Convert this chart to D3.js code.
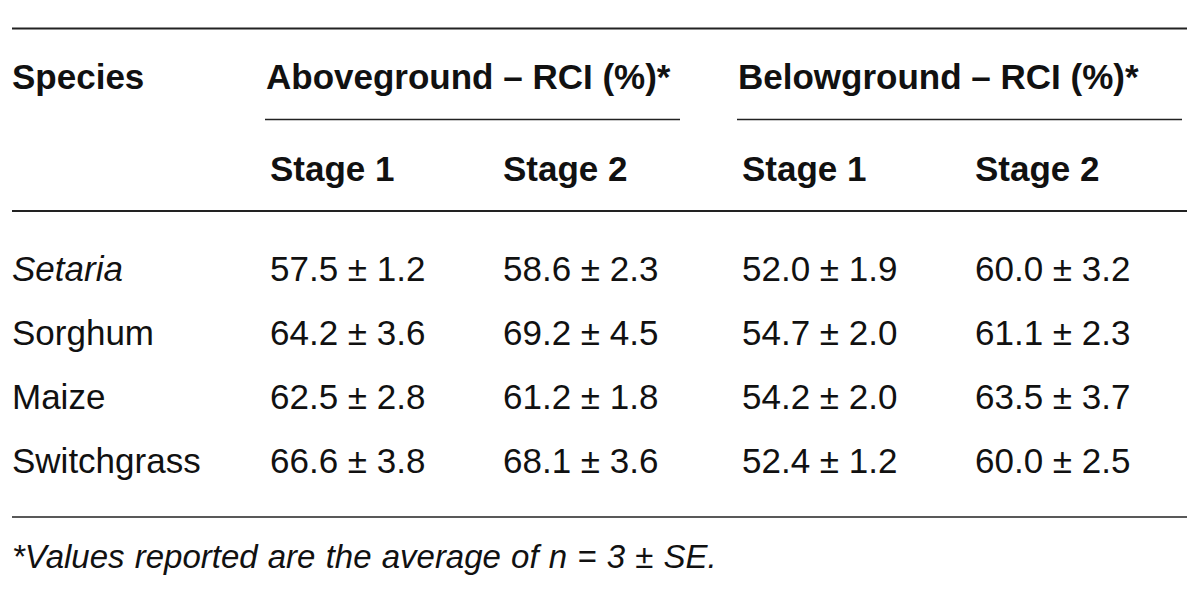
<!DOCTYPE html>
<html><head><meta charset="utf-8">
<script src="https://cdn.jsdelivr.net/npm/d3@7"></script>
<style>
html,body{margin:0;padding:0;background:#fff;}
svg{display:block;}
text{font-family:"Liberation Sans","Helvetica",Arial,sans-serif;fill:#111;}
</style></head>
<body>
<svg id="chart" width="1200" height="590"></svg>
<script>
const species = ["Setaria","Sorghum","Maize","Switchgrass"];
const italicSpecies = ["Setaria"];
const groups = ["Aboveground – RCI (%)*","Belowground – RCI (%)*"];
const stages = ["Stage 1","Stage 2"];
const aboveStage1 = ["57.5 ± 1.2","64.2 ± 3.6","62.5 ± 2.8","66.6 ± 3.8"];
const aboveStage2 = ["58.6 ± 2.3","69.2 ± 4.5","61.2 ± 1.8","68.1 ± 3.6"];
const belowStage1 = ["52.0 ± 1.9","54.7 ± 2.0","54.2 ± 2.0","52.4 ± 1.2"];
const belowStage2 = ["60.0 ± 3.2","61.1 ± 2.3","63.5 ± 3.7","60.0 ± 2.5"];
const footnote = "*Values reported are the average of n = 3 ± SE.";

const columns = [aboveStage1, aboveStage2, belowStage1, belowStage2];
const colKeys = ["species","a1","a2","b1","b2"];

const svg = d3.select("#chart");
const x = d3.scaleOrdinal().domain(colKeys).range([12, 270, 503, 742, 975]);
const y = d3.scalePoint().domain(species).range([281, 473]);
const fs = 35;

function hline(x1, x2, yy, w){
  svg.append("line").attr("x1",x1).attr("x2",x2).attr("y1",yy).attr("y2",yy)
    .attr("stroke","#222").attr("stroke-width",w);
}
hline(12, 1187, 28.5, 2);
hline(265, 680, 119.5, 1.5);
hline(737, 1182, 119.5, 1.5);
hline(12, 1187, 211, 2);
hline(12, 1187, 517, 1.5);

// headers
svg.append("text").attr("x", x("species")).attr("y", 89)
  .attr("font-size", fs).attr("font-weight","bold").text("Species");
svg.selectAll("text.grp").data(groups).join("text").attr("class","grp")
  .attr("x", (d,i)=> x(i===0?"a1":"b1") - 4).attr("y", 89)
  .attr("font-size", fs).attr("font-weight","bold").text(d=>d);
const stageCols = ["a1","a2","b1","b2"];
svg.selectAll("text.stage").data(stageCols).join("text").attr("class","stage")
  .attr("x", d=>x(d)).attr("y", 181)
  .attr("font-size", fs).attr("font-weight","bold").text((d,i)=>stages[i%2]);

// body
svg.selectAll("text.sp").data(species).join("text").attr("class","sp")
  .attr("x", x("species")).attr("y", d=>y(d))
  .attr("font-size", fs)
  .attr("font-style", d=> italicSpecies.includes(d) ? "italic" : "normal")
  .text(d=>d);
columns.forEach((col, ci)=>{
  svg.selectAll("text.c"+ci).data(col).join("text").attr("class","c"+ci)
    .attr("x", x(stageCols[ci])).attr("y", (d,i)=>y(species[i]))
    .attr("font-size", fs).text(d=>d);
});

svg.append("text").attr("x", 12).attr("y", 568).attr("font-size", 33)
  .attr("word-spacing", 1).attr("font-style","italic").text(footnote);
</script>
</body></html>
